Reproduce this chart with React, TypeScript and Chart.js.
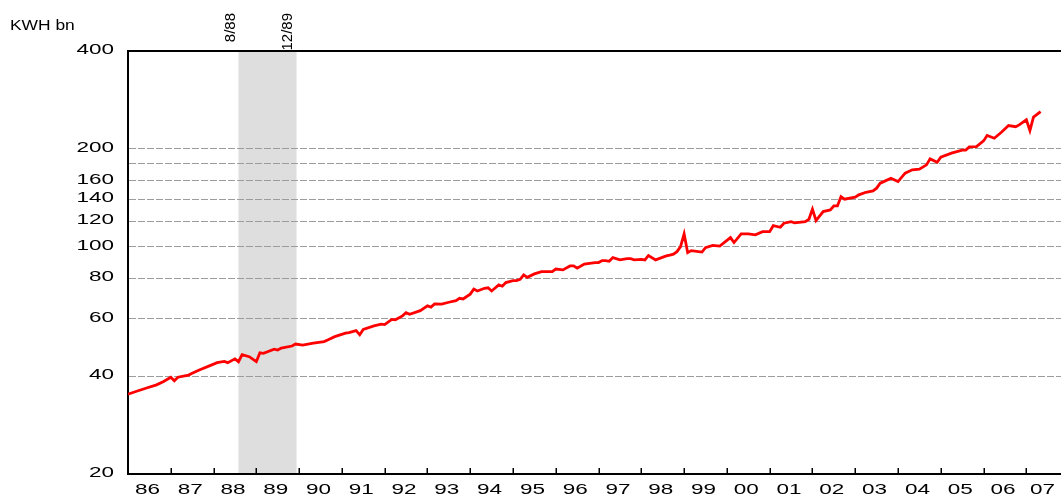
import React, { useEffect, useRef } from 'react';
import { Chart, registerables } from 'chart.js';

Chart.register(...registerables);

// ---- data (monthly readings, month index counted from Jan 1986) ----
const firstYear = 1986;
const months = [
  0, 2, 5, 8, 10, 12, 13, 14, 17, 18, 20, 23, 25, 27, 28, 30, 31, 32, 34, 36,
  37, 38, 41, 42, 43, 46, 47, 49, 52, 55, 56, 58, 61, 62, 64, 65, 66, 69, 71, 72,
  74, 75, 77, 78, 79, 82, 84, 85, 86, 88, 90, 92, 93, 94, 96, 97, 98, 100, 101, 102,
  104, 105, 106, 108, 109, 110, 111, 112, 114, 116, 119, 120, 122, 124, 125, 126, 128, 131, 132, 133,
  134, 135, 136, 138, 140, 141, 142, 144, 145, 146, 148, 151, 152, 153, 154, 155, 156, 157, 158, 161,
  162, 164, 166, 169, 170, 172, 174, 176, 178, 180, 181, 183, 184, 186, 187, 190, 191, 192, 193, 195,
  197, 198, 199, 200, 201, 204, 205, 207, 209, 210, 211, 212, 214, 216, 218, 220, 222, 224, 225, 227,
  228, 231, 234, 235, 236, 238, 240, 241, 243, 245, 247, 249, 250, 252, 253, 254, 256,
];
const kwh = [
  35.2, 35.8, 36.7, 37.6, 38.5, 39.7, 38.7, 39.7, 40.3, 40.8, 41.8, 43.1, 44.0, 44.4, 44.0, 45.2, 44.3, 46.6, 45.9, 44.3,
  47.2, 47.0, 48.4, 48.1, 48.8, 49.5, 50.2, 49.8, 50.5, 51.1, 51.7, 52.9, 54.2, 54.4, 55.2, 53.6, 55.7, 57.1, 57.8, 57.6,
  59.8, 59.6, 61.3, 62.7, 62.0, 63.6, 65.8, 65.2, 66.7, 66.6, 67.5, 68.3, 69.4, 69.1, 71.5, 74.1, 73.1, 74.5, 74.8, 73.1,
  76.3, 75.6, 77.6, 78.7, 78.7, 79.4, 81.9, 80.5, 82.5, 83.8, 83.8, 85.4, 84.9, 87.3, 87.3, 85.9, 88.5, 89.4, 89.4, 90.7,
  90.7, 90.2, 92.6, 91.1, 91.9, 91.9, 91.1, 91.5, 91.1, 94.0, 91.1, 93.7, 94.2, 94.9, 96.6, 100.1, 109.5, 95.9, 97.3, 96.3,
  99.4, 101.0, 100.5, 106.7, 103.0, 109.5, 109.5, 108.8, 111.3, 111.3, 116.1, 114.8, 118.1, 119.5, 118.5, 119.5, 121.5, 130.5, 120.3, 128.3,
  129.8, 133.5, 133.5, 142.6, 140.0, 142.0, 144.4, 147.1, 148.5, 151.4, 156.8, 158.6, 162.5, 158.6, 168.4, 172.4, 173.2, 178.6, 186.3, 182.0,
  188.6, 194.0, 198.2, 198.2, 202.8, 203.3, 211.6, 219.8, 215.7, 225.0, 236.0, 234.0, 237.0, 245.7, 227.7, 250.4, 260.5,
];

const yearLabels = [
  '86', '87', '88', '89', '90', '91', '92', '93', '94', '95', '96',
  '97', '98', '99', '00', '01', '02', '03', '04', '05', '06', '07',
];
const yTickValues = [20, 40, 60, 80, 100, 120, 140, 160, 180, 200, 400];
const yTickLabels = ['20', '40', '60', '80', '100', '120', '140', '160', '', '200', '400'];
const unitLabel = 'KWH bn';
// shaded period: Aug 1988 - Dec 1989
const shadeFrom = { year: 1988, month: 8 };
const shadeTo = { year: 1989, month: 12 };
const shadeLabels = ['8/88', '12/89'];

const toYear = (d: { year: number; month: number }) => d.year + (d.month - 1) / 12;
const LABEL_FONT = '15px "Liberation Sans", Arial, sans-serif';
const STRETCH = 1.5;

const decorPlugin = {
  id: 'decor',
  beforeDraw(chart: any) {
    const { ctx, chartArea, scales } = chart;
    const x = scales.x;
    const x0 = x.getPixelForValue(toYear(shadeFrom));
    const x1 = x.getPixelForValue(toYear(shadeTo)) + 1;
    ctx.save();
    ctx.fillStyle = '#dedede';
    ctx.fillRect(x0, chartArea.top, x1 - x0, chartArea.bottom - chartArea.top);
    ctx.restore();
  },
  afterDraw(chart: any) {
    const { ctx, chartArea, scales } = chart;
    const x = scales.x;
    const y = scales.y;
    ctx.save();
    // top frame line
    ctx.strokeStyle = '#000';
    ctx.lineWidth = 2;
    ctx.beginPath();
    ctx.moveTo(chartArea.left - 1, chartArea.top);
    ctx.lineTo(chartArea.right, chartArea.top);
    ctx.stroke();
    // inward year tick marks
    ctx.lineWidth = 1.5;
    for (let i = 1; i < yearLabels.length; i++) {
      const px = Math.round(x.getPixelForValue(firstYear + i)) + 0.25;
      ctx.beginPath();
      ctx.moveTo(px, chartArea.bottom);
      ctx.lineTo(px, chartArea.bottom - 6);
      ctx.stroke();
    }
    ctx.fillStyle = '#000';
    // y tick labels (wide face)
    ctx.font = LABEL_FONT;
    ctx.textAlign = 'right';
    ctx.textBaseline = 'middle';
    yTickValues.forEach((v, i) => {
      const label = yTickLabels[i];
      if (!label) return;
      const py = y.getPixelForValue(v) - 1;
      ctx.save();
      ctx.translate(chartArea.left - 14, py);
      ctx.scale(STRETCH, 1);
      ctx.fillText(label, 0, 0);
      ctx.restore();
    });
    // x tick labels, centred in each year
    ctx.textAlign = 'center';
    yearLabels.forEach((label, i) => {
      const w = ctx.measureText(label).width * STRETCH;
      let cx = x.getPixelForValue(firstYear + i + 0.5) - 2;
      if (cx + w / 2 > chartArea.right - 6) cx = chartArea.right - 6 - w / 2;
      ctx.save();
      ctx.translate(cx, chartArea.bottom + 16);
      ctx.scale(STRETCH, 1);
      ctx.fillText(label, 0, 0);
      ctx.restore();
    });
    // rotated period labels
    ctx.font = '15px "Liberation Sans", Arial, sans-serif';
    ctx.textAlign = 'right';
    ctx.textBaseline = 'alphabetic';
    [shadeFrom, shadeTo].forEach((d, i) => {
      const px = x.getPixelForValue(toYear(d)) - 4;
      ctx.save();
      ctx.translate(px, 13);
      ctx.rotate(-Math.PI / 2);
      ctx.fillText(shadeLabels[i], 0, 0);
      ctx.restore();
    });
    // unit label
    ctx.font = LABEL_FONT;
    ctx.textAlign = 'left';
    ctx.save();
    ctx.translate(10, 30);
    ctx.scale(1.16, 1);
    ctx.fillText(unitLabel, 0, 0);
    ctx.restore();
    ctx.restore();
  },
};

export default function App() {
  const ref = useRef<HTMLCanvasElement | null>(null);

  useEffect(() => {
    if (!ref.current) return;
    const data = months.map((m, i) => ({ x: firstYear + m / 12, y: kwh[i] }));
    const chart = new Chart(ref.current, {
      type: 'line',
      data: {
        datasets: [
          {
            label: unitLabel,
            data,
            borderColor: '#ff0000',
            borderWidth: 2.8,
            pointRadius: 0,
            tension: 0,
            fill: false,
          },
        ],
      },
      options: {
        animation: false,
        responsive: false,
        layout: { padding: { top: 51, left: 0, right: 0, bottom: 0 } },
        plugins: {
          legend: { display: false },
          tooltip: { enabled: false },
          title: { display: false },
        },
        scales: {
          x: {
            type: 'linear',
            min: firstYear,
            max: firstYear + 21.81,
            afterBuildTicks: (scale: any) => {
              scale.ticks = yearLabels.map((_, i) => ({ value: firstYear + i + 0.5 }));
            },
            afterFit: (scale: any) => {
              scale.height = 28;
            },
            ticks: { display: false, autoSkip: false, maxRotation: 0 },
            grid: { display: false, drawTicks: false },
            border: { display: true, color: '#000', width: 2 },
          },
          y: {
            type: 'logarithmic',
            min: 20,
            max: 400,
            afterBuildTicks: (scale: any) => {
              scale.ticks = yTickValues.map((v) => ({ value: v }));
            },
            afterFit: (scale: any) => {
              scale.width = 128;
            },
            ticks: { display: false, autoSkip: false },
            grid: { color: '#9c9c9c', lineWidth: 1, drawTicks: false },
            border: { display: true, color: '#000', width: 2, dash: [7, 2] },
          },
        },
      },
      plugins: [decorPlugin],
    });
    return () => chart.destroy();
  }, []);

  return (
    <div style={{ position: 'fixed', left: 0, top: 0, width: 1061, height: 502, background: '#fff' }}>
      <canvas ref={ref} width={1061} height={502} style={{ display: 'block' }} />
    </div>
  );
}
